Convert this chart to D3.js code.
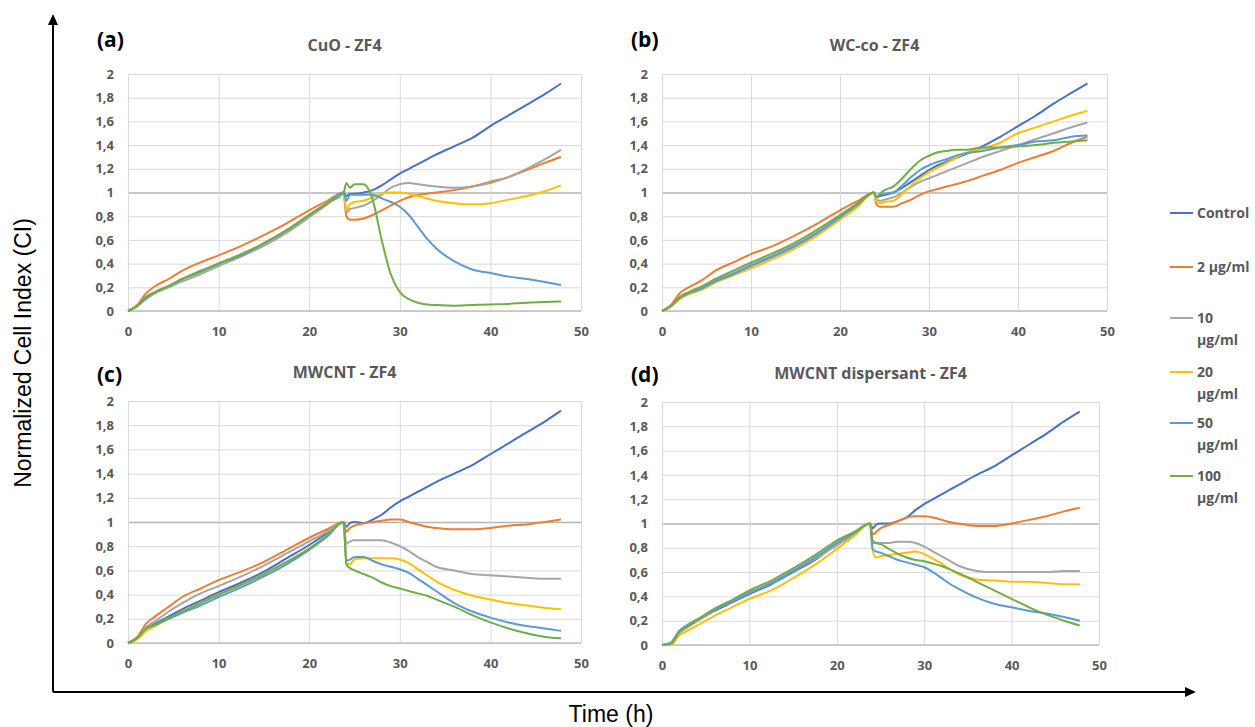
<!DOCTYPE html>
<html>
<head>
<meta charset="utf-8">
<script src="https://cdn.jsdelivr.net/npm/d3@7"></script>
<style>
  body { margin: 0; background: #fff; }
  text { font-family: 'Open Sans', sans-serif; }
</style>
</head>
<body>
<div id="svg-container"></div>
<script>
// time points (h), shared by every series
const hours = [0, 1, 2, 3, 4.5, 6, 8, 10, 12.5, 15, 17.5, 20, 22, 23.8,
  24.1, 24.5, 25, 26, 27, 28, 29, 30, 31, 32, 33, 34, 36, 38, 40, 42, 44, 46, 47.8]

const seriesNames = ['Control', '2 µg/ml', '10 µg/ml', '20 µg/ml', '50 µg/ml', '100 µg/ml']
const seriesColors = ['#4472C4', '#ED7D31', '#A5A5A5', '#FFC000', '#5B9BD5', '#70AD47']

const cellIndexTicks = [0, 0.2, 0.4, 0.6, 0.8, 1, 1.2, 1.4, 1.6, 1.8, 2]
const hourTicks = [0, 10, 20, 30, 40, 50]

// normalized cell index, one row per series (same order as seriesNames)
const cuoZF4 = [
  [0, 0.04, 0.11, 0.16, 0.21, 0.27, 0.33, 0.40, 0.47, 0.57, 0.68, 0.81, 0.91, 1.0,
    0.97, 0.99, 0.99, 1.0, 1.02, 1.06, 1.11, 1.16, 1.20, 1.24, 1.28, 1.32, 1.39, 1.46, 1.56, 1.65, 1.74, 1.83, 1.92],
  [0, 0.05, 0.15, 0.21, 0.27, 0.34, 0.41, 0.47, 0.55, 0.64, 0.74, 0.85, 0.93, 1.0,
    0.80, 0.77, 0.77, 0.78, 0.81, 0.85, 0.89, 0.93, 0.96, 0.98, 0.99, 1.0, 1.02, 1.05, 1.09, 1.13, 1.19, 1.25, 1.30],
  [0, 0.04, 0.10, 0.15, 0.20, 0.25, 0.31, 0.38, 0.46, 0.55, 0.66, 0.79, 0.90, 1.0,
    0.83, 0.86, 0.87, 0.89, 0.93, 0.98, 1.04, 1.07, 1.08, 1.07, 1.06, 1.05, 1.04, 1.05, 1.08, 1.13, 1.20, 1.28, 1.36],
  [0, 0.04, 0.12, 0.16, 0.21, 0.27, 0.33, 0.40, 0.48, 0.57, 0.68, 0.81, 0.91, 1.0,
    0.85, 0.90, 0.92, 0.93, 0.96, 0.99, 1.0, 1.0, 0.99, 0.97, 0.95, 0.93, 0.91, 0.90, 0.91, 0.94, 0.97, 1.01, 1.06],
  [0, 0.04, 0.11, 0.16, 0.21, 0.27, 0.33, 0.40, 0.47, 0.57, 0.68, 0.81, 0.91, 1.0,
    0.93, 0.98, 0.98, 0.98, 0.98, 0.95, 0.92, 0.88, 0.81, 0.71, 0.61, 0.53, 0.42, 0.35, 0.32, 0.29, 0.27, 0.245, 0.22],
  [0, 0.04, 0.12, 0.16, 0.21, 0.27, 0.34, 0.40, 0.48, 0.57, 0.68, 0.81, 0.91, 1.0,
    1.08, 1.04, 1.07, 1.07, 0.94, 0.60, 0.31, 0.16, 0.10, 0.07, 0.055, 0.05, 0.045, 0.05, 0.055, 0.06, 0.07, 0.075, 0.08],
]

const wccoZF4 = [
  [0, 0.04, 0.11, 0.15, 0.20, 0.26, 0.32, 0.39, 0.47, 0.56, 0.67, 0.80, 0.90, 1.0,
    0.96, 0.97, 0.98, 1.0, 1.04, 1.09, 1.14, 1.19, 1.23, 1.26, 1.29, 1.32, 1.39, 1.47, 1.56, 1.65, 1.75, 1.84, 1.92],
  [0, 0.05, 0.15, 0.20, 0.26, 0.34, 0.41, 0.48, 0.55, 0.64, 0.74, 0.85, 0.93, 1.0,
    0.90, 0.88, 0.88, 0.88, 0.91, 0.94, 0.98, 1.01, 1.03, 1.05, 1.07, 1.09, 1.14, 1.19, 1.25, 1.30, 1.35, 1.42, 1.47],
  [0, 0.04, 0.11, 0.15, 0.20, 0.26, 0.32, 0.39, 0.47, 0.56, 0.67, 0.80, 0.90, 1.0,
    0.94, 0.93, 0.94, 0.96, 1.0, 1.05, 1.09, 1.12, 1.15, 1.18, 1.21, 1.24, 1.30, 1.35, 1.40, 1.45, 1.50, 1.55, 1.59],
  [0, 0.04, 0.10, 0.14, 0.18, 0.24, 0.30, 0.36, 0.44, 0.53, 0.64, 0.77, 0.88, 1.0,
    0.92, 0.91, 0.92, 0.93, 0.99, 1.06, 1.12, 1.17, 1.21, 1.25, 1.29, 1.33, 1.37, 1.42, 1.50, 1.55, 1.60, 1.65, 1.69],
  [0, 0.04, 0.11, 0.15, 0.19, 0.25, 0.31, 0.38, 0.46, 0.55, 0.66, 0.79, 0.90, 1.0,
    0.96, 0.98, 0.99, 1.0, 1.06, 1.13, 1.19, 1.23, 1.26, 1.28, 1.31, 1.33, 1.35, 1.38, 1.40, 1.43, 1.44, 1.47, 1.48],
  [0, 0.04, 0.12, 0.16, 0.21, 0.27, 0.34, 0.41, 0.49, 0.58, 0.69, 0.81, 0.91, 1.0,
    0.96, 0.99, 1.02, 1.05, 1.12, 1.20, 1.27, 1.31, 1.34, 1.35, 1.36, 1.36, 1.38, 1.38, 1.39, 1.40, 1.42, 1.43, 1.44],
]

const mwcntZF4 = [
  [0, 0.04, 0.12, 0.16, 0.22, 0.28, 0.35, 0.42, 0.50, 0.59, 0.70, 0.81, 0.91, 1.0,
    0.96, 0.99, 1.0, 0.99, 1.02, 1.06, 1.12, 1.17, 1.21, 1.25, 1.29, 1.33, 1.40, 1.47, 1.56, 1.65, 1.74, 1.83, 1.92],
  [0, 0.05, 0.16, 0.22, 0.30, 0.38, 0.45, 0.52, 0.59, 0.67, 0.77, 0.87, 0.94, 1.0,
    0.92, 0.95, 0.97, 0.99, 1.0, 1.01, 1.02, 1.02, 1.0, 0.98, 0.96, 0.95, 0.94, 0.94, 0.95, 0.97, 0.98, 1.0, 1.02],
  [0, 0.04, 0.13, 0.18, 0.26, 0.33, 0.41, 0.47, 0.55, 0.64, 0.74, 0.84, 0.92, 1.0,
    0.82, 0.84, 0.85, 0.85, 0.85, 0.85, 0.83, 0.80, 0.76, 0.71, 0.67, 0.63, 0.60, 0.57, 0.56, 0.55, 0.54, 0.53, 0.53],
  [0, 0.03, 0.10, 0.14, 0.20, 0.26, 0.33, 0.40, 0.48, 0.57, 0.67, 0.78, 0.89, 1.0,
    0.66, 0.65, 0.69, 0.70, 0.70, 0.70, 0.70, 0.69, 0.66, 0.61, 0.56, 0.51, 0.44, 0.39, 0.36, 0.33, 0.31, 0.29, 0.28],
  [0, 0.04, 0.12, 0.15, 0.20, 0.25, 0.31, 0.38, 0.46, 0.55, 0.65, 0.77, 0.88, 1.0,
    0.68, 0.69, 0.71, 0.71, 0.68, 0.65, 0.63, 0.61, 0.58, 0.53, 0.48, 0.43, 0.33, 0.26, 0.21, 0.17, 0.14, 0.12, 0.10],
  [0, 0.04, 0.12, 0.15, 0.21, 0.26, 0.33, 0.40, 0.48, 0.57, 0.67, 0.78, 0.89, 1.0,
    0.65, 0.62, 0.60, 0.57, 0.54, 0.50, 0.47, 0.45, 0.43, 0.41, 0.39, 0.36, 0.30, 0.23, 0.17, 0.12, 0.08, 0.05, 0.04],
]

const mwcntDispersantZF4 = [
  [0, 0.01, 0.11, 0.16, 0.22, 0.28, 0.35, 0.42, 0.50, 0.60, 0.70, 0.83, 0.92, 1.0,
    0.96, 0.99, 1.0, 1.0, 1.02, 1.05, 1.11, 1.16, 1.20, 1.24, 1.28, 1.32, 1.40, 1.47, 1.56, 1.65, 1.74, 1.84, 1.92],
  [0, 0.01, 0.10, 0.15, 0.22, 0.29, 0.36, 0.43, 0.51, 0.61, 0.71, 0.83, 0.92, 1.0,
    0.91, 0.93, 0.96, 0.99, 1.02, 1.05, 1.06, 1.06, 1.05, 1.03, 1.01, 1.0, 0.98, 0.98, 1.0, 1.03, 1.06, 1.10, 1.13],
  [0, 0.01, 0.10, 0.15, 0.22, 0.29, 0.36, 0.43, 0.51, 0.61, 0.71, 0.82, 0.91, 1.0,
    0.84, 0.84, 0.84, 0.84, 0.85, 0.85, 0.84, 0.81, 0.77, 0.73, 0.69, 0.65, 0.61, 0.60, 0.60, 0.60, 0.60, 0.61, 0.61],
  [0, 0.0, 0.08, 0.12, 0.18, 0.24, 0.31, 0.38, 0.45, 0.55, 0.66, 0.79, 0.90, 1.0,
    0.78, 0.72, 0.73, 0.74, 0.75, 0.76, 0.77, 0.75, 0.71, 0.67, 0.62, 0.58, 0.54, 0.53, 0.52, 0.52, 0.51, 0.50, 0.50],
  [0, 0.02, 0.12, 0.17, 0.23, 0.29, 0.36, 0.43, 0.51, 0.61, 0.72, 0.84, 0.92, 1.0,
    0.79, 0.77, 0.76, 0.73, 0.70, 0.68, 0.66, 0.64, 0.60, 0.55, 0.50, 0.46, 0.39, 0.34, 0.31, 0.28, 0.26, 0.23, 0.20],
  [0, 0.01, 0.11, 0.16, 0.23, 0.30, 0.37, 0.45, 0.53, 0.63, 0.74, 0.86, 0.93, 1.0,
    0.86, 0.84, 0.83, 0.79, 0.75, 0.72, 0.70, 0.69, 0.67, 0.65, 0.62, 0.59, 0.52, 0.45, 0.38, 0.31, 0.25, 0.20, 0.16],
]

const panelLabels = ['(a)', '(b)', '(c)', '(d)']
const panelTitles = ['CuO - ZF4', 'WC-co - ZF4', 'MWCNT - ZF4', 'MWCNT dispersant - ZF4']
const panelData = [cuoZF4, wccoZF4, mwcntZF4, mwcntDispersantZF4]

// layout of the four plot areas (pixels)
const frames = [
  { left: 128, right: 581, top: 74, bottom: 311 },
  { left: 662, right: 1107, top: 74, bottom: 311 },
  { left: 128, right: 581, top: 401, bottom: 643 },
  { left: 662, right: 1099, top: 402, bottom: 645 },
]

const width = 1255
const height = 727
const textGray = '#595959'

const svg = d3
  .select('#svg-container')
  .append('svg')
  .attr('width', width)
  .attr('height', height)
  .style('background', '#fff')

const commaFormat = d => String(+d.toFixed(1)).replace('.', ',')

panelData.forEach((rows, i) => {
  const f = frames[i]
  const xScale = d3.scaleLinear().domain([0, 50]).range([f.left, f.right])
  const yScale = d3.scaleLinear().domain([0, 2]).range([f.bottom, f.top])

  const g = svg.append('g')

  // horizontal grid + y labels
  const yAxis = g
    .append('g')
    .attr('transform', `translate(${f.left},0)`)
    .call(
      d3.axisLeft(yScale)
        .tickValues(cellIndexTicks)
        .tickSize(-(f.right - f.left))
        .tickPadding(14)
        .tickFormat(commaFormat),
    )
  yAxis.select('.domain').remove()
  yAxis
    .selectAll('.tick line')
    .attr('stroke', d => (d === 1 ? '#b4b4b4' : '#d9d9d9'))
    .attr('stroke-width', d => (d === 1 ? 1.5 : 1))
  yAxis
    .selectAll('.tick text')
    .attr('fill', textGray)
    .style('font-size', '13px')
    .style('font-weight', 700)

  // vertical grid + x labels
  const xAxis = g
    .append('g')
    .attr('transform', `translate(0,${f.bottom})`)
    .call(
      d3.axisBottom(xScale)
        .tickValues(hourTicks)
        .tickSize(-(f.bottom - f.top))
        .tickPadding(16),
    )
  xAxis.select('.domain').remove()
  xAxis.selectAll('.tick line').attr('stroke', '#d9d9d9')
  xAxis
    .selectAll('.tick text')
    .attr('fill', textGray)
    .style('font-size', '13px')
    .style('font-weight', 700)

  // x axis line
  g.append('line')
    .attr('x1', f.left)
    .attr('x2', f.right)
    .attr('y1', f.bottom)
    .attr('y2', f.bottom)
    .attr('stroke', '#bfbfbf')
    .attr('stroke-width', 1.5)

  const line = d3
    .line()
    .curve(d3.curveMonotoneX)
    .x((d, k) => xScale(hours[k]))
    .y(d => yScale(d))

  g.append('g')
    .selectAll('path')
    .data(rows)
    .join('path')
    .attr('fill', 'none')
    .attr('stroke', (d, k) => seriesColors[k])
    .attr('stroke-width', 2)
    .attr('stroke-linejoin', 'round')
    .attr('d', line)

  // title
  g.append('text')
    .attr('x', (f.left + f.right) / 2 - 10)
    .attr('y', f.top - 23)
    .attr('text-anchor', 'middle')
    .attr('fill', textGray)
    .style('font-size', '16px')
    .style('font-weight', 700)
    .text(panelTitles[i])

  // panel letter
  g.append('text')
    .attr('x', f.left - 31)
    .attr('y', i < 2 ? 47 : 382)
    .attr('fill', '#000')
    .style('font-size', '21px')
    .style('font-weight', 700)
    .text(panelLabels[i])
})

// legend
const legendRows = [
  ['Control'], ['2 µg/ml'], ['10', 'µg/ml'], ['20', 'µg/ml'], ['50', 'µg/ml'], ['100', 'µg/ml'],
]
const legendY = [213, 267, 318, 372, 423, 476]
const legend = svg
  .append('g')
  .selectAll('g')
  .data(seriesNames)
  .join('g')
  .attr('transform', (d, k) => `translate(1170,${legendY[k]})`)
legend
  .append('line')
  .attr('x1', 0)
  .attr('x2', 23)
  .attr('stroke', (d, k) => seriesColors[k])
  .attr('stroke-width', 2)
legend
  .append('text')
  .attr('x', 27)
  .attr('y', 5)
  .attr('fill', textGray)
  .style('font-size', '14px')
  .style('font-weight', 700)
  .selectAll('tspan')
  .data((d, k) => legendRows[k])
  .join('tspan')
  .attr('x', 27)
  .attr('dy', (d, j) => (j === 0 ? 0 : 22))
  .text(d => d)

// outer axes with arrows
svg.append('path')
  .attr('d', 'M53,692 L53,22 M53,692 L1188,692')
  .attr('stroke', '#000')
  .attr('stroke-width', 2)
  .attr('fill', 'none')
svg.append('path')
  .attr('d', 'M53,14 L48,25 L58,25 Z M1196,692 L1185,687 L1185,697 Z')
  .attr('fill', '#000')

svg.append('text')
  .attr('x', 611)
  .attr('y', 722)
  .attr('text-anchor', 'middle')
  .style('font-family', '"Liberation Sans", Arial, sans-serif')
  .style('font-size', '23px')
  .text('Time (h)')

svg.append('text')
  .attr('transform', 'translate(31,353) rotate(-90)')
  .attr('text-anchor', 'middle')
  .style('font-family', '"Liberation Sans", Arial, sans-serif')
  .style('font-size', '23px')
  .text('Normalized Cell Index (CI)')
</script>
</body>
</html>
